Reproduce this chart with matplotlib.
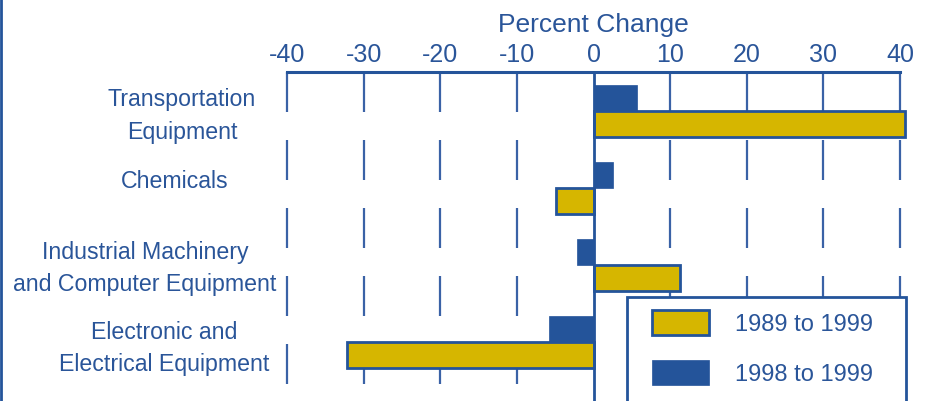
import matplotlib
matplotlib.use("Agg")
import matplotlib.pyplot as plt
import matplotlib.transforms as mtransforms
from matplotlib.lines import Line2D
from matplotlib.patches import Patch, Rectangle
import numpy as np

# data
categories = [
    "Transportation\nEquipment",
    "Chemicals",
    "Industrial Machinery\nand Computer Equipment",
    "Electronic and\nElectrical Equipment",
]
change_1989_1999 = [40.7, -4.9, 11.3, -32.2]
change_1998_1999 = [5.7, 2.6, -2.1, -5.8]
series_labels = ["1989 to 1999", "1998 to 1999"]
xticks = [-40, -30, -20, -10, 0, 10, 20, 30, 40]

BLUE = "#24549A"
YELLOW = "#D6B600"
TEXT = "#2A5599"
GRID = "#3A62A6"

plt.rcParams["font.family"] = ["Liberation Sans", "DejaVu Sans"]
plt.rcParams["lines.scale_dashes"] = False

fig = plt.figure(figsize=(9.25, 4.02), dpi=100)
W, H = 925, 402
ax = fig.add_axes([287 / W, 0, (900 - 287) / W, 1 - 73 / H])

y = np.arange(len(categories))
h = 0.34

# dashed vertical grid lines
for xv in xticks:
    if xv == 0:
        continue
    ax.vlines(xv, -0.506, 3.77, color=GRID, lw=1.6,
              linestyles=[(0, (40 * 0.72, 28 * 0.72))], zorder=1,
              clip_on=False)

ax.barh(y + h / 2, change_1989_1999, height=h, color=YELLOW,
        edgecolor=BLUE, linewidth=2, zorder=3, clip_on=False)
ax.barh(y - h / 2, change_1998_1999, height=h, color=BLUE,
        edgecolor=BLUE, linewidth=0.5, zorder=3, clip_on=False)

ax.axvline(0, color=BLUE, lw=2, zorder=4)

ax.set_xlim(-40, 40)
ax.set_ylim(3.77, -0.506)
ax.set_yticks([])

ax.xaxis.tick_top()
ax.xaxis.set_label_position("top")
ax.set_xticks(xticks)
ax.set_xticklabels([str(t) for t in xticks])
ax.tick_params(axis="x", length=0, pad=4, labelsize=18, labelcolor=TEXT)
ax.set_xlabel("Percent Change", fontsize=19, color=TEXT, labelpad=8)

for s in ["left", "right", "bottom"]:
    ax.spines[s].set_visible(False)
ax.spines["top"].set_color(BLUE)
ax.spines["top"].set_linewidth(2.2)
ax.patch.set_visible(False)

# category labels, centered lines left of the plot
label_x = [182, 175, 145, 164]
label_dy = [4, -7, 3, 6]
trans = mtransforms.blended_transform_factory(fig.transFigure, ax.transData)
for yi, lab, lx, dy in zip(y, categories, label_x, label_dy):
    ax.text(lx / W, yi + dy / 77, lab, transform=trans, ha="center", va="center",
            multialignment="center", fontsize=16.7, color=TEXT, linespacing=1.52)

# legend box (runs off the bottom of the figure)
fig.add_artist(Rectangle((627 / W, -0.1), (906 - 627) / W, 1.1 - 298 / H,
                         transform=fig.transFigure, facecolor="white",
                         edgecolor=BLUE, linewidth=2, zorder=5))
handles = [Patch(facecolor=YELLOW, edgecolor=BLUE, linewidth=2),
           Patch(facecolor=BLUE, edgecolor=BLUE, linewidth=0.5)]
leg = fig.legend(handles, series_labels, loc="upper left",
                 bbox_to_anchor=(652 / W, 1 - 311 / H), frameon=False,
                 fontsize=17, handlelength=2.4, handleheight=1.22,
                 handletextpad=1.1, labelspacing=1.05, borderpad=0,
                 borderaxespad=0)
leg.set_zorder(6)
for t in leg.get_texts():
    t.set_color(TEXT)

# left border line
fig.add_artist(Line2D([0.0012, 0.0012], [0, 1], transform=fig.transFigure,
                      color=BLUE, lw=2))

fig.savefig("out.png", dpi=100)
